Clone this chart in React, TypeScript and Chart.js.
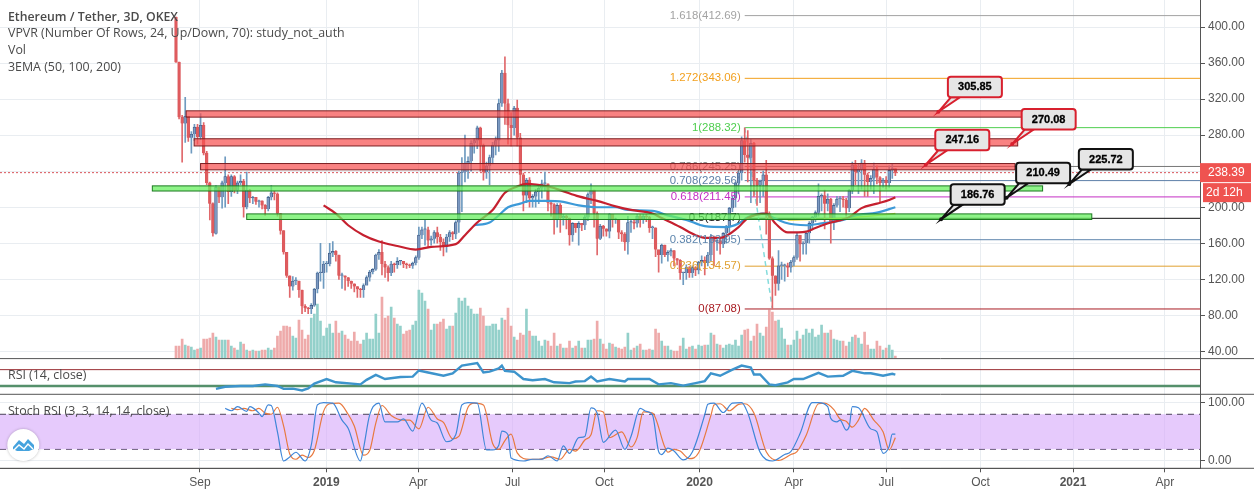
import React, { useEffect, useRef } from 'react';
import { Chart, registerables } from 'chart.js';

Chart.register(...registerables);

// candles, one per 3D bar
const firstOpen = 411;
const closes = [
  361, 300, 293, 301, 277, 281, 289, 278, 291, 260, 227, 204, 171, 222, 211, 227, 234, 217, 234, 219,
  227, 229, 200, 219, 210, 211, 206, 207, 202, 198, 211, 216, 215, 193, 174, 150, 124, 112, 118, 118,
  108, 90, 88, 87, 91, 109, 127, 127, 137, 137, 149, 151, 147, 124, 124, 122, 118, 115, 112, 109,
  108, 113, 122, 128, 131, 147, 150, 137, 133, 127, 137, 136, 140, 140, 137, 136, 135, 138, 144, 169,
  175, 175, 163, 165, 172, 167, 161, 156, 167, 172, 170, 183, 238, 239, 249, 251, 271, 274, 288, 269,
  239, 246, 255, 269, 274, 315, 349, 315, 291, 288, 310, 277, 236, 213, 230, 210, 212, 217, 221, 226,
  226, 205, 203, 186, 202, 188, 190, 188, 169, 182, 177, 182, 180, 189, 214, 219, 193, 165, 179, 176,
  173, 192, 186, 186, 172, 170, 161, 183, 183, 182, 190, 186, 190, 189, 177, 177, 153, 147, 158, 147,
  150, 152, 143, 141, 127, 127, 133, 127, 133, 130, 139, 141, 138, 147, 167, 162, 163, 159, 171, 178,
  199, 210, 227, 238, 274, 258, 255, 271, 230, 224, 229, 236, 193, 143, 124, 115, 135, 135, 135, 133,
  139, 144, 169, 159, 160, 171, 182, 189, 194, 212, 213, 204, 209, 183, 202, 209, 209, 208, 199, 219,
  247, 239, 242, 249, 236, 228, 232, 242, 233, 227, 230, 227, 241, 243, 238.39,
];
const highs = [
  411, 361, 302, 322, 301, 284, 292, 292, 304, 294, 262, 228, 205, 224, 222, 229, 256, 236, 236, 235,
  229, 236, 231, 239, 220, 212, 211, 208, 207, 203, 212, 224, 218, 216, 193, 174, 150, 124, 123, 122,
  118, 108, 92, 89, 93, 110, 128, 160, 140, 140, 160, 162, 152, 147, 127, 124, 122, 118, 115, 112,
  110, 115, 124, 130, 132, 148, 153, 163, 140, 135, 140, 138, 144, 141, 140, 138, 137, 139, 146, 178,
  178, 186, 178, 168, 174, 178, 170, 165, 170, 174, 173, 185, 240, 255, 280, 256, 274, 276, 290, 289,
  270, 250, 258, 272, 278, 320, 352, 367, 320, 305, 312, 319, 282, 238, 232, 233, 214, 220, 223, 230,
  239, 226, 207, 204, 204, 204, 192, 191, 188, 183, 182, 184, 182, 191, 216, 226, 219, 195, 181, 180,
  176, 193, 192, 188, 186, 174, 172, 190, 186, 186, 192, 192, 192, 192, 190, 179, 177, 150, 159, 158,
  152, 154, 152, 143, 142, 128, 136, 134, 135, 134, 140, 146, 145, 150, 170, 168, 165, 165, 172, 180,
  200, 212, 228, 240, 278, 288, 285, 275, 272, 232, 230, 240, 252, 195, 145, 124, 152, 139, 137, 138,
  141, 146, 172, 168, 162, 172, 184, 190, 196, 226, 215, 219, 215, 210, 204, 212, 212, 212, 210, 220,
  250, 252, 248, 253, 252, 238, 235, 249, 246, 234, 232, 234, 246, 248, 243,
];
const lows = [
  361, 298, 250, 272, 273, 260, 274, 270, 275, 258, 225, 186, 168, 170, 205, 199, 200, 204, 212, 216,
  215, 225, 189, 198, 205, 204, 203, 200, 198, 191, 196, 208, 208, 190, 170, 148, 122, 100, 108, 114,
  100, 82, 84, 82, 82, 90, 105, 118, 110, 128, 135, 145, 140, 120, 110, 108, 112, 110, 106, 100,
  100, 100, 114, 118, 126, 130, 142, 125, 122, 118, 124, 128, 132, 136, 133, 132, 133, 132, 136, 142,
  165, 158, 156, 158, 160, 160, 152, 146, 150, 162, 164, 165, 172, 195, 228, 232, 240, 260, 265, 240,
  230, 232, 225, 248, 258, 262, 312, 292, 270, 268, 280, 268, 226, 196, 205, 200, 200, 200, 204, 210,
  218, 196, 190, 170, 178, 172, 180, 176, 158, 162, 172, 158, 174, 175, 185, 204, 178, 147, 164, 168,
  168, 166, 178, 182, 165, 162, 152, 148, 172, 176, 178, 178, 182, 184, 172, 165, 145, 128, 138, 145,
  140, 146, 135, 136, 120, 114, 120, 122, 122, 124, 126, 135, 125, 135, 140, 135, 152, 148, 155, 160,
  172, 195, 200, 215, 230, 250, 228, 205, 212, 202, 205, 212, 170, 142, 87, 102, 108, 120, 118, 123,
  128, 135, 142, 140, 148, 148, 160, 176, 184, 190, 196, 176, 196, 160, 175, 200, 195, 200, 190, 195,
  215, 225, 215, 220, 212, 212, 220, 215, 226, 205, 222, 220, 222, 232, 235,
];
const volumes = [
  12, 12, 19, 13, 12, 11, 8, 9, 10, 19, 19, 20, 25, 21, 18, 18, 18, 18, 12, 10,
  8, 16, 14, 8, 7, 8, 7, 7, 8, 8, 10, 8, 10, 22, 27, 32, 32, 31, 22, 20,
  38, 28, 19, 23, 40, 44, 54, 37, 22, 30, 34, 25, 37, 25, 27, 23, 19, 17, 26, 17,
  14, 18, 25, 19, 19, 44, 25, 61, 40, 42, 51, 40, 34, 32, 24, 27, 28, 33, 37, 68,
  65, 57, 49, 28, 34, 34, 36, 39, 29, 32, 32, 45, 60, 57, 60, 52, 49, 44, 44, 50,
  42, 32, 32, 34, 34, 28, 40, 38, 50, 32, 21, 18, 25, 23, 49, 27, 22, 22,
  17, 12, 18, 17, 12, 25, 12, 14, 10, 10, 17, 10, 12, 17, 10, 10, 18, 18, 19, 37,
  19, 14, 9, 15, 14, 11, 10, 9, 11, 25, 8, 10, 12, 14, 8, 8, 9, 8, 29, 25,
  17, 12, 12, 8, 7, 7, 12, 20, 9, 11, 12, 9, 13, 12, 13, 13, 25, 23, 14, 13,
  10, 13, 14, 13, 18, 12, 23, 28, 29, 17, 22, 34, 25, 22, 31, 48, 46, 37, 38, 30,
  19, 13, 13, 18, 27, 19, 23, 29, 25, 29, 21, 23, 33, 25, 25, 28, 19, 18, 17, 17,
  12, 16, 21, 23, 20, 14, 26, 13, 9, 9, 17, 12, 8, 10, 13, 8, 2,
];

// EMAs
const emaRedBars = [48, 52, 56, 61, 66, 72, 78, 83, 91, 94, 98, 103, 107, 111, 114, 121, 125, 131, 137, 143, 148, 155, 158, 164, 169, 172, 177, 183, 186, 192, 195, 199, 205, 208, 213, 219, 223, 228, 232, 234];
const emaRedValues = [202, 193, 180, 169, 162, 157, 153, 156, 159, 169, 183, 197, 216, 223, 226, 223, 219, 212, 207, 201, 197, 193, 188, 178, 169, 166, 166, 178, 188, 193, 182, 172, 173, 177, 183, 189, 199, 204, 208, 211];
const emaBlueBars = [97, 102, 105, 108, 112, 115, 120, 126, 131, 137, 143, 147, 155, 160, 166, 172, 179, 183, 186, 191, 194, 198, 205, 210, 217, 221, 228, 234];
const emaBlueValues = [180, 183, 191, 200, 204, 207, 207, 206, 202, 200, 200, 197, 196, 191, 186, 179, 178, 182, 189, 193, 189, 183, 180, 182, 186, 191, 194, 200];
const emaLongBars = [199, 212, 225, 234];
const emaLongValues = [186, 187, 190, 193];

// RSI
const rsiBars = [13, 16, 21, 25, 29, 33, 35, 38, 41, 43, 45, 49, 52, 60, 62, 65, 68, 73, 77, 79, 82, 87, 90, 93, 98, 100, 102, 105, 106, 107, 110, 113, 116, 120, 123, 128, 130, 133, 135, 137, 141, 146, 147, 154, 157, 161, 165, 169, 172, 174, 177, 181, 184, 187, 188, 190, 193, 195, 199, 201, 204, 209, 212, 217, 220, 224, 226, 230, 233, 234];
const rsiValues = [23, 28, 30, 30, 34, 30, 23, 23.5, 19, 24, 36, 47, 39, 34, 45, 57, 47, 52, 53, 68, 63, 55, 61, 80, 86, 63, 65, 73, 80, 67, 65, 47, 44, 47, 39, 37, 41, 42, 53, 41, 47, 41, 47, 47, 34, 37, 31, 37, 42, 61, 55, 70, 80, 75, 58, 58, 34, 32, 39, 47, 47, 62, 53, 55, 67, 61, 61, 55, 60, 58];
const rsiUpper = 70;
const rsiLower = 30;

// Stoch RSI
const stochKBars = [16, 18, 20, 23, 24, 27, 28, 30, 31, 33, 35, 37, 39, 42, 44, 46, 48, 51, 54, 56, 60, 61, 63, 66, 68, 72, 74, 77, 80, 83, 85, 88, 91, 93, 95, 98, 101, 103, 105, 106, 108, 109, 113, 116, 119, 121, 124, 126, 128, 131, 133, 135, 137, 139, 143, 146, 148, 151, 153, 155, 157, 158, 160, 162, 165, 168, 172, 173, 175, 178, 181, 184, 186, 190, 194, 198, 200, 203, 207, 209, 212, 213, 215, 216, 218, 219, 220, 222, 226, 228, 230, 232, 233, 234];
const stochKValues = [90, 86, 93, 85, 93, 82, 76, 96, 95, 50, 0, 7, 15, 0, 27, 96, 100, 99, 70, 56, 0, 22, 79, 99, 67, 67, 72, 51, 99, 70, 65, 33, 45, 96, 100, 99, 19, 19, 27, 51, 45, 5, 0, 3, 3, 9, 0, 26, 13, 40, 42, 91, 82, 32, 53, 20, 42, 90, 85, 79, 16, 11, 22, 17, 2, 16, 79, 97, 99, 83, 99, 100, 82, 15, 0, 11, 16, 47, 100, 100, 93, 73, 67, 70, 53, 59, 93, 91, 55, 50, 13, 25, 46, 46];
const stochDBars = [18, 20, 22, 25, 27, 29, 31, 33, 35, 37, 39, 41, 43, 45, 48, 50, 53, 56, 58, 61, 63, 65, 67, 70, 74, 76, 79, 82, 85, 87, 90, 92, 95, 97, 100, 103, 105, 107, 109, 111, 115, 118, 122, 125, 128, 130, 133, 135, 137, 139, 141, 145, 148, 150, 152, 155, 159, 160, 162, 164, 167, 170, 174, 175, 177, 180, 183, 185, 188, 192, 196, 200, 202, 205, 209, 211, 214, 216, 218, 220, 222, 224, 227, 230, 232, 234];
const stochDValues = [90, 88, 90, 86, 90, 82, 80, 92, 60, 12, 3, 10, 6, 18, 85, 98, 99, 80, 60, 10, 18, 65, 95, 78, 70, 70, 55, 92, 72, 66, 38, 42, 92, 99, 96, 30, 20, 35, 46, 14, 3, 3, 7, 3, 20, 17, 36, 45, 86, 84, 40, 50, 24, 40, 84, 82, 24, 15, 20, 17, 4, 14, 78, 96, 98, 86, 97, 98, 82, 16, 1, 11, 16, 44, 98, 99, 88, 72, 68, 58, 70, 90, 70, 50, 19, 40];
const stochUpper = 80;
const stochLower = 20;

// fib levels
const fibRatios = ['1.618', '1.272', '1', '0.786', '0.708', '0.618', '0.5', '0.382', '0.236', '0'];
const fibPrices = [412.69, 343.06, 288.32, 245.25, 229.56, 211.45, 187.7, 163.95, 134.57, 87.08];
const fibColors = ['#a3a3a3', '#f2a01f', '#4fce4f', '#777777', '#5d7fa8', '#c42fc4', '#111111', '#5d85ad', '#e0a030', '#a81c22'];
const fibStartBar = 185;
const fibTrendBars = [185, 194];
const fibTrendPrices = [288.32, 87.08];

// drawn zones
const zoneStarts = [3.3, 5.9, 8, -7.7, 23];
const zoneEnds = [277.5, 273.8, 272.9, 281.9, 297.9];
const zoneLows = [300, 268, 241.5, 218, 186.4];
const zoneHighs = [307, 276, 248.5, 223.7, 192.6];
const zoneKinds = ['red', 'red', 'red', 'green', 'green'];

// price callouts
const calloutValues = [305.85, 270.08, 247.16, 225.72, 210.49, 186.76];
const calloutBars = [248, 272, 243.9, 290.6, 270.2, 248.9];
const calloutKinds = ['red', 'red', 'red', 'black', 'black', 'black'];

const lastPrice = 238.39;
const countdown = '2d 12h';
const titleLines = ['Ethereum / Tether, 3D, OKEX', 'VPVR (Number Of Rows, 24, Up/Down, 70): study_not_auth', 'Vol', '3EMA (50, 100, 200)'];

// axes
const priceTicks = [400, 360, 320, 280, 240, 200, 160, 120, 80, 40];
const stochTicks = [100, 0];
const timeTickBars = [7.8, 48.9, 78.8, 109.5, 139.3, 170.3, 201, 231, 261.7, 291.8, 321.7];
const timeTickLabels = ['Sep', '2019', 'Apr', 'Jul', 'Oct', '2020', 'Apr', 'Jul', 'Oct', '2021', 'Apr'];

const X_MIN = -57.25;
const X_MAX = 333.1;
const FONT = '"Open Sans", sans-serif';
const AXIS_FONT = '"Liberation Sans", sans-serif';
const AXIS_TEXT = '#555555';
const GRID = '#e9edf1';

const opens = closes.map((_, i) => (i === 0 ? firstOpen : closes[i - 1]));
const isUp = closes.map((c, i) => c >= opens[i]);
const bars = closes.map((_, i) => i);

function pairs(xs: number[], ys: number[]) {
  return xs.map((x, i) => ({ x, y: ys[i] }));
}
function flat(value: number, from = X_MIN) {
  return [{ x: from, y: value }, { x: X_MAX, y: value }];
}

const overlayPlugin = {
  id: 'overlays',
  afterDatasetsDraw(chart: any) {
    const { ctx, scales } = chart;
    const { x, y } = scales;
    ctx.save();

    // fib labels sit under the zones
    ctx.font = `11.4px ${AXIS_FONT}`;
    ctx.textAlign = 'right';
    ctx.textBaseline = 'middle';
    fibRatios.forEach((r, i) => {
      ctx.fillStyle = fibColors[i];
      ctx.fillText(`${r}(${fibPrices[i]})`, x.getPixelForValue(fibStartBar) - 4, y.getPixelForValue(fibPrices[i]));
    });

    zoneStarts.forEach((start, i) => {
      const left = x.getPixelForValue(start);
      const right = x.getPixelForValue(zoneEnds[i]);
      const top = y.getPixelForValue(zoneHighs[i]);
      const bottom = y.getPixelForValue(zoneLows[i]);
      const red = zoneKinds[i] === 'red';
      ctx.fillStyle = red ? 'rgba(247,82,82,0.72)' : 'rgba(104,240,96,0.75)';
      ctx.strokeStyle = red ? '#7c1f22' : '#1c7a20';
      ctx.lineWidth = 1;
      ctx.fillRect(left, top, right - left, bottom - top);
      ctx.strokeRect(left, top, right - left, bottom - top);
    });

    calloutValues.forEach((value, i) => {
      const ax = x.getPixelForValue(calloutBars[i]);
      const ay = y.getPixelForValue(value);
      const bx = ax + 9.5;
      const by = ay - 35;
      const color = calloutKinds[i] === 'red' ? '#d8202e' : '#111111';
      ctx.fillStyle = '#e6e6e6';
      ctx.strokeStyle = color;
      ctx.lineWidth = 2;
      ctx.beginPath();
      ctx.moveTo(ax, ay);
      ctx.lineTo(bx + 3, by + 20.5);
      ctx.lineTo(bx + 12, by + 20.5);
      ctx.closePath();
      ctx.fill();
      ctx.stroke();
      ctx.beginPath();
      ctx.roundRect(bx, by, 54, 20.5, 3);
      ctx.fill();
      ctx.stroke();
      ctx.fillStyle = color;
      ctx.beginPath();
      ctx.arc(ax, ay, 2, 0, Math.PI * 2);
      ctx.fill();
      ctx.fillStyle = '#000000';
      ctx.strokeStyle = '#000000';
      ctx.lineWidth = 0.3;
      ctx.font = `bold 11px ${AXIS_FONT}`;
      ctx.textAlign = 'center';
      ctx.textBaseline = 'middle';
      ctx.fillText(value.toFixed(2), bx + 27, by + 10.5);
      ctx.strokeText(value.toFixed(2), bx + 27, by + 10.5);
    });

    ctx.restore();
  },
  afterDraw(chart: any) {
    const { ctx, scales, chartArea, width } = chart;
    const { y, rsi, stoch } = scales;
    ctx.save();

    // pane separators
    ctx.strokeStyle = '#555555';
    ctx.lineWidth = 1;
    [rsi.top, stoch.top, chartArea.bottom].forEach((py: number) => {
      ctx.beginPath();
      ctx.moveTo(0, py);
      ctx.lineTo(width, py);
      ctx.stroke();
    });

    // price tag and countdown
    const tagY = y.getPixelForValue(lastPrice);
    ctx.fillStyle = '#ef5350';
    ctx.fillRect(chartArea.right, tagY - 9.5, 51, 19);
    ctx.fillRect(chartArea.right + 3, tagY + 10.5, 48, 19);
    ctx.fillStyle = '#ffffff';
    ctx.font = `12px ${AXIS_FONT}`;
    ctx.textAlign = 'left';
    ctx.textBaseline = 'middle';
    ctx.fillText(lastPrice.toFixed(2), chartArea.right + 8, tagY);
    ctx.fillText(countdown, chartArea.right + 6, tagY + 20);

    // legends
    ctx.fillStyle = '#4a4a4a';
    titleLines.forEach((line, i) => {
      ctx.font = `${i === 0 ? '600 ' : ''}${i === 0 ? 12.3 : 12.4}px ${FONT}`;
      ctx.fillText(line, 8, 17 + i * 16.8);
    });
    ctx.font = `12.4px ${FONT}`;
    ctx.fillText('RSI (14, close)', 8, rsi.top + 17);
    ctx.fillText('Stoch RSI (3, 3, 14, 14, close)', 8, stoch.top + 17);

    // watermark logo
    ctx.beginPath();
    ctx.arc(23.3, 445, 16, 0, Math.PI * 2);
    ctx.fillStyle = '#ffffff';
    ctx.shadowColor = 'rgba(0,0,0,0.25)';
    ctx.shadowBlur = 3;
    ctx.fill();
    ctx.shadowBlur = 0;
    ctx.fillStyle = '#46a3de';
    ctx.beginPath();
    ctx.moveTo(13, 447);
    ctx.lineTo(19, 440);
    ctx.lineTo(24, 444);
    ctx.lineTo(28, 439);
    ctx.lineTo(34, 445);
    ctx.lineTo(34, 449);
    ctx.lineTo(29, 451);
    ctx.lineTo(17, 451);
    ctx.lineTo(13, 449);
    ctx.closePath();
    ctx.fill();
    ctx.strokeStyle = '#ffffff';
    ctx.lineWidth = 1.4;
    ctx.beginPath();
    ctx.moveTo(14, 450);
    ctx.lineTo(19, 445);
    ctx.lineTo(24, 449);
    ctx.lineTo(28, 444);
    ctx.lineTo(33, 449);
    ctx.stroke();

    ctx.restore();
  },
};

function fixSize(width?: number, height?: number) {
  return (s: any) => {
    if (width !== undefined) s.width = width;
    if (height !== undefined) s.height = height;
    s.paddingTop = 0;
    s.paddingBottom = 0;
    s.paddingLeft = 0;
    s.paddingRight = 0;
  };
}

export default function App() {
  const canvasRef = useRef<HTMLCanvasElement>(null);
  useEffect(() => {
    document.body.style.margin = '0';
    document.body.style.background = '#ffffff';
    const ctx = canvasRef.current!.getContext('2d')!;

    const line = (data: any[], yAxisID: string, borderColor: string, borderWidth: number, extra: any = {}) => ({
      type: 'line' as const,
      data,
      yAxisID,
      borderColor,
      borderWidth,
      pointRadius: 0,
      fill: false,
      ...extra,
    });

    const chart = new Chart(ctx, {
      type: 'bar',
      data: {
        datasets: [
          line(pairs(emaRedBars, emaRedValues), 'y', '#c5202f', 2.2, { cubicInterpolationMode: 'monotone' }),
          line(pairs(emaBlueBars, emaBlueValues), 'y', '#3d9ad8', 2.2, { cubicInterpolationMode: 'monotone' }),
          line(pairs(emaLongBars, emaLongValues), 'y', '#e6d83a', 1.6, { cubicInterpolationMode: 'monotone' }),
          line(pairs(stochKBars, stochKValues), 'stoch', '#3f86d8', 1.2, { cubicInterpolationMode: 'monotone' }),
          line(pairs(stochDBars, stochDValues), 'stoch', '#e8793f', 1.2, { cubicInterpolationMode: 'monotone' }),
          line(pairs(rsiBars, rsiValues), 'rsi', '#3d94cc', 2.4),
          line(flat(stochUpper), 'stoch', '#4a4058', 1, { borderDash: [6, 5], fill: '+1', backgroundColor: 'rgba(214,170,250,0.62)' }),
          line(flat(stochLower), 'stoch', '#4a4058', 1, { borderDash: [6, 5] }),
          line(flat(rsiUpper), 'rsi', '#9a2f33', 1),
          line(flat(rsiLower), 'rsi', '#55906b', 2.4),
          {
            type: 'bar' as const,
            data: bars.map(i => ({ x: i, y: [opens[i], closes[i]] })),
            yAxisID: 'y',
            barThickness: 2.8,
            minBarLength: 1,
            grouped: false,
            backgroundColor: isUp.map(u => (u ? '#7b99c2' : '#df5b5e')),
            borderColor: isUp.map(u => (u ? '#38557f' : '#d9595c')),
            borderWidth: 0.7,
          },
          {
            type: 'bar' as const,
            data: bars.map(i => ({ x: i, y: [lows[i], highs[i]] })),
            yAxisID: 'y',
            barThickness: 1,
            grouped: false,
            backgroundColor: isUp.map(u => (u ? '#6f9bc0' : '#e0686b')),
          },
          line(pairs(fibTrendBars, fibTrendPrices), 'y', '#84dcdc', 1.5, { borderDash: [5, 4] }),
          ...fibPrices.map((p, i) => line(flat(p, fibStartBar), 'y', fibColors[i], 1)),
          line(flat(lastPrice), 'y', '#d9545a', 1, { borderDash: [2, 2] }),
          {
            type: 'bar' as const,
            data: bars.map(i => ({ x: i, y: volumes[i] })),
            yAxisID: 'vol',
            barThickness: 2,
            grouped: false,
            backgroundColor: isUp.map(u => (u ? '#93d0ca' : '#eeaaaa')),
          },
        ],
      },
      options: {
        responsive: false,
        animation: false,
        layout: { padding: 0 },
        plugins: { legend: { display: false }, tooltip: { enabled: false } },
        scales: {
          x: {
            type: 'linear',
            min: X_MIN,
            max: X_MAX,
            offset: false,
            afterBuildTicks: (s: any) => { s.ticks = timeTickBars.map(value => ({ value })); },
            afterFit: fixSize(undefined, 28.7),
            grid: { color: GRID, tickColor: AXIS_TEXT, tickLength: 4, offset: false },
            border: { color: AXIS_TEXT },
            ticks: {
              autoSkip: false,
              maxRotation: 0,
              padding: 3,
              color: AXIS_TEXT,
              font: (c: any) => ({ family: AXIS_FONT, size: 12, weight: /^\d{4}$/.test(timeTickLabels[c.index]) ? 'bold' : 'normal' }),
              callback: (_v: any, i: number) => timeTickLabels[i],
            },
          },
          y: {
            type: 'linear',
            position: 'right',
            stack: 'panes',
            stackWeight: 358.6,
            min: 32,
            max: 430,
            afterBuildTicks: (s: any) => { s.ticks = priceTicks.map(value => ({ value })); },
            afterFit: fixSize(54),
            grid: { color: GRID, tickColor: AXIS_TEXT, tickLength: 5 },
            border: { color: AXIS_TEXT },
            ticks: {
              autoSkip: false,
              padding: 3,
              color: AXIS_TEXT,
              font: { family: AXIS_FONT, size: 12 },
              callback: (v: any) => Number(v).toFixed(2),
            },
          },
          rsi: {
            type: 'linear',
            position: 'right',
            stack: 'panes',
            stackWeight: 35.7,
            min: 9.7,
            max: 97,
            afterFit: fixSize(54),
            grid: { display: false },
            border: { color: AXIS_TEXT },
            ticks: { display: false },
          },
          stoch: {
            type: 'linear',
            position: 'right',
            stack: 'panes',
            stackWeight: 74,
            min: -12.5,
            max: 114.2,
            afterBuildTicks: (s: any) => { s.ticks = stochTicks.map(value => ({ value })); },
            afterFit: fixSize(54),
            grid: { color: GRID, tickColor: AXIS_TEXT, tickLength: 5 },
            border: { color: AXIS_TEXT },
            ticks: {
              autoSkip: false,
              padding: 3,
              color: AXIS_TEXT,
              font: { family: AXIS_FONT, size: 12 },
              callback: (v: any) => Number(v).toFixed(2),
            },
          },
          // volume has no visible axis, it just sits on the bottom edge of the price pane
          vol: { type: 'linear', display: false, position: 'left', min: -110.3, max: 358 },
        },
      },
      plugins: [overlayPlugin],
    } as any);

    return () => chart.destroy();
  }, []);

  return (
    <div style={{ position: 'fixed', left: 0, top: 0, width: 1254, height: 497 }}>
      <canvas ref={canvasRef} width={1254} height={497} aria-label="Ethereum / Tether 3D chart" />
    </div>
  );
}
